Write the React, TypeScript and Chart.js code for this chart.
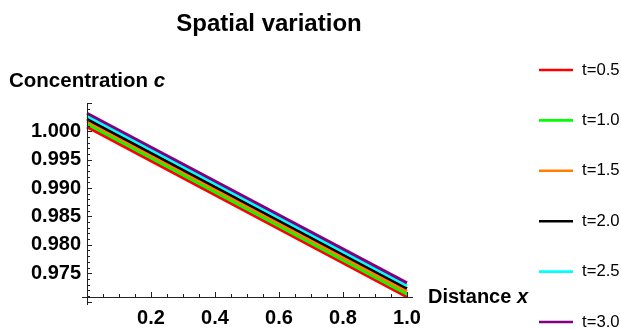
import React, { useEffect, useRef } from "react";
import { Chart, registerables } from "chart.js";

Chart.register(...registerables);

// ---- data ----
const xValues = [0, 1];
const seriesLabels = ["t=0.5", "t=1.0", "t=1.5", "t=2.0", "t=2.5", "t=3.0"];
const cT05 = [1.0008, 0.9708];
const cT10 = [1.0013, 0.9713];
const cT15 = [1.0018, 0.9718];
const cT20 = [1.0022, 0.9723];
const cT25 = [1.0027, 0.9728];
const cT30 = [1.0032, 0.9733];
const seriesValues = [cT05, cT10, cT15, cT20, cT25, cT30];
const seriesColors = ["#ff0000", "#00ff00", "#ff8000", "#000000", "#00ffff", "#800080"];
const yTickValues = [0.975, 0.98, 0.985, 0.99, 0.995, 1.0];
const xTickValues = [0.2, 0.4, 0.6, 0.8, 1.0];
const titleText = "Spatial variation";
const yAxisText = "Concentration ";
const yAxisVar = "c";
const xAxisText = "Distance ";
const xAxisVar = "x";

const FONT = "'Liberation Sans', Arial, sans-serif";

const decorPlugin = {
  id: "decor",
  afterDatasetsDraw(chart: any) {
    const { ctx, chartArea, scales } = chart;
    const xs = scales.x;
    const ys = scales.y;
    const ax = xs.getPixelForValue(0);
    const ay = ys.getPixelForValue(ys.min);
    ctx.save();
    ctx.strokeStyle = "#222";
    ctx.lineWidth = 1;
    // axes
    ctx.beginPath();
    ctx.moveTo(chartArea.left - 5, Math.round(ay) + 0.5);
    ctx.lineTo(chartArea.right + 6, Math.round(ay) + 0.5);
    ctx.moveTo(Math.round(ax) + 0.5, chartArea.top);
    ctx.lineTo(Math.round(ax) + 0.5, chartArea.bottom + 8);
    ctx.stroke();
    // y ticks
    ctx.beginPath();
    for (let k = 970; k <= 1005; k++) {
      const py = Math.round(ys.getPixelForValue(k / 1000)) + 0.5;
      const len = k % 5 === 0 ? 5 : 3;
      ctx.moveTo(Math.round(ax), py);
      ctx.lineTo(Math.round(ax) + len, py);
    }
    // x ticks
    for (let k = 1; k <= 20; k++) {
      const px = Math.round(xs.getPixelForValue(k / 20)) + 0.5;
      const len = k % 4 === 0 ? 5 : 3;
      ctx.moveTo(px, Math.round(ay));
      ctx.lineTo(px, Math.round(ay) - len);
    }
    ctx.stroke();

    // title
    ctx.fillStyle = "#000";
    ctx.textBaseline = "alphabetic";
    ctx.textAlign = "center";
    ctx.font = `bold 24px ${FONT}`;
    ctx.fillText(titleText, 269, 31);

    // y axis label
    ctx.textAlign = "left";
    ctx.font = `bold 20.5px ${FONT}`;
    ctx.fillText(yAxisText, 9, 87);
    let w = ctx.measureText(yAxisText).width;
    ctx.font = `italic bold 20.5px ${FONT}`;
    ctx.fillText(yAxisVar, 9 + w, 87);

    // x axis label
    ctx.font = `bold 20px ${FONT}`;
    ctx.fillText(xAxisText, 428, 303);
    w = ctx.measureText(xAxisText).width;
    ctx.font = `italic bold 20px ${FONT}`;
    ctx.fillText(xAxisVar, 428 + w, 303);

    // legend
    ctx.font = `16.7px ${FONT}`;
    ctx.textBaseline = "middle";
    chart.data.datasets.forEach((ds: any, i: number) => {
      const cy = 70 + i * 50.4;
      ctx.strokeStyle = ds.borderColor;
      ctx.lineWidth = 2.6;
      ctx.beginPath();
      ctx.moveTo(539, cy);
      ctx.lineTo(573, cy);
      ctx.stroke();
      ctx.fillStyle = "#000";
      ctx.fillText(ds.label, 582, cy);
    });
    ctx.restore();
  },
};

export default function App() {
  const ref = useRef<HTMLCanvasElement>(null);
  useEffect(() => {
    document.body.style.margin = "0";
    const chart = new Chart(ref.current as HTMLCanvasElement, {
      type: "line",
      data: {
        datasets: seriesLabels.map((label, i) => ({
          label,
          data: xValues.map((x, j) => ({ x, y: seriesValues[i][j] })),
          borderColor: seriesColors[i],
          backgroundColor: seriesColors[i],
          borderWidth: 3,
          pointRadius: 0,
          tension: 0,
          clip: false as any,
          order: seriesLabels.length - i,
        })),
      },
      options: {
        animation: false,
        responsive: false,
        maintainAspectRatio: false,
        layout: { padding: { top: 103, right: 214, left: 0, bottom: 0 } },
        plugins: { legend: { display: false }, title: { display: false }, tooltip: { enabled: false } },
        scales: {
          x: {
            type: "linear",
            min: 0,
            max: 1,
            grid: { display: false, drawTicks: false },
            border: { display: false },
            afterBuildTicks: (s: any) => {
              s.ticks = xTickValues.map((v) => ({ value: v }));
            },
            afterFit: (s: any) => {
              s.height = 32;
            },
            ticks: {
              autoSkip: false,
              maxRotation: 0,
              padding: 9,
              color: "#000",
              font: { family: FONT, size: 20, weight: "bold" },
              callback: (v: any) => Number(v).toFixed(1),
            },
          },
          y: {
            type: "linear",
            min: 0.9708,
            max: 1.005,
            grid: { display: false, drawTicks: false },
            border: { display: false },
            afterBuildTicks: (s: any) => {
              s.ticks = yTickValues.map((v) => ({ value: v }));
            },
            afterFit: (s: any) => {
              s.width = 87;
            },
            ticks: {
              autoSkip: false,
              padding: 6,
              color: "#000",
              font: { family: FONT, size: 20, weight: "bold" },
              callback: (v: any) => Number(v).toFixed(3),
            },
          },
        },
      },
      plugins: [decorPlugin],
    });
    return () => chart.destroy();
  }, []);
  return (
    <div style={{ width: 621, height: 329, position: "relative", background: "#fff" }}>
      <canvas ref={ref} width={621} height={329} style={{ display: "block" }} />
    </div>
  );
}
